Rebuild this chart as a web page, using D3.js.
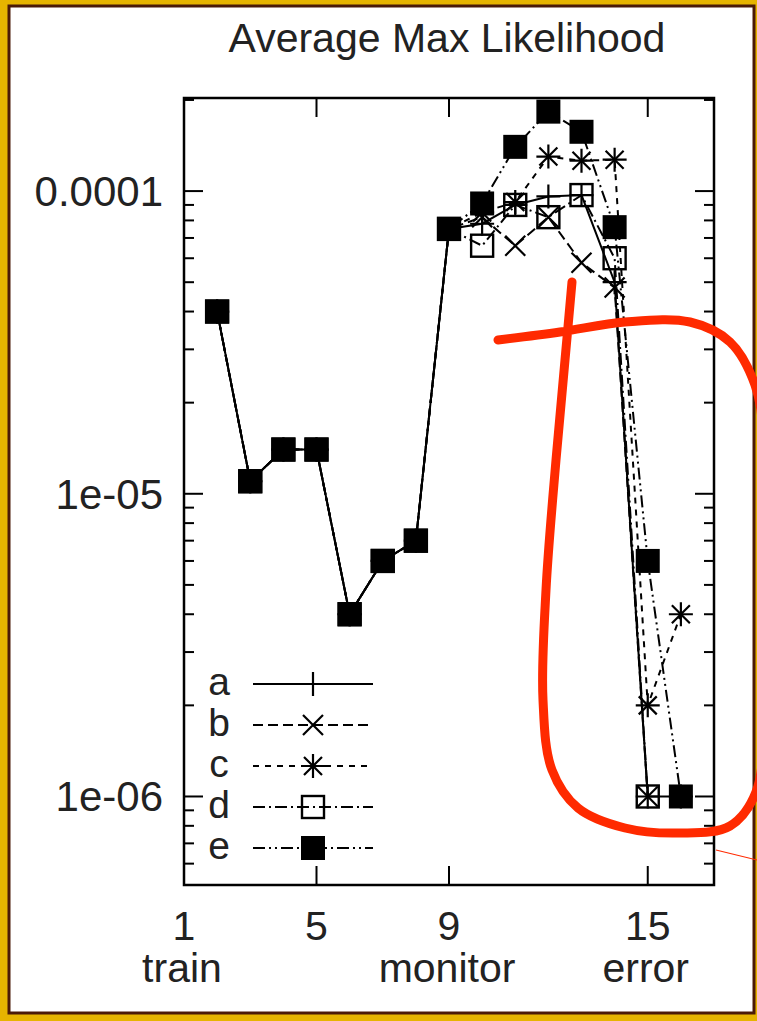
<!DOCTYPE html>
<html>
<head>
<meta charset="utf-8">
<script src="https://cdn.jsdelivr.net/npm/d3@7"></script>
<style>
  html, body { margin: 0; padding: 0; background: #e6b400; }
  svg { display: block; }
  text { font-family: "Liberation Sans", Arial, sans-serif; fill: #222; }
</style>
</head>
<body>
<svg id="chart"></svg>
<script>
// Data
const xValues = [2, 3, 4, 5, 6, 7, 8, 9, 10, 11, 12, 13, 14, 15, 16];
const shared = [4e-5, 1.1e-5, 1.4e-5, 1.4e-5, 4e-6, 6e-6, 7e-6, 7.5e-5];
const seriesA = shared.concat([7.8e-5, 9.0e-5, 9.6e-5, 9.7e-5, 5.0e-5, 1e-6, 1e-6]);
const seriesB = shared.concat([8.2e-5, 6.6e-5, 8.2e-5, 5.8e-5, 4.8e-5, 1e-6, null]);
const seriesC = shared.concat([8.5e-5, 9.2e-5, 1.3e-4, 1.26e-4, 1.27e-4, 2e-6, 4e-6]);
const seriesD = shared.concat([6.6e-5, 9.0e-5, 8.2e-5, 9.7e-5, 6.0e-5, 1e-6, null]);
const seriesE = shared.concat([9.1e-5, 1.4e-4, 1.83e-4, 1.57e-4, 7.6e-5, 6e-6, 1e-6]);
const seriesNames = ["a", "b", "c", "d", "e"];
const xTicks = [1, 5, 9, 15];
const xTickLabels = ["1", "5", "9", "15"];
const xTickSubLabels = ["train", "", "monitor", "error"];
const yTicks = [1e-4, 1e-5, 1e-6];
const yTickLabels = ["0.0001", "1e-05", "1e-06"];
const title = "Average Max Likelihood";

// hand drawn red loop on top of the chart (pixels)
const annotation = [[498, 340], [560, 332], [625, 322], [690, 322], [730, 342], [755, 385],
  [764, 440], [766, 560], [765, 700], [756, 792], [730, 826], [680, 833], [625, 828],
  [578, 808], [552, 770], [543, 700], [546, 590], [556, 460], [565, 360], [572, 282]];

const W = 757, H = 1021;
const margin = {top: 98, right: 43, bottom: 136, left: 184};

const svg = d3.select("#chart").attr("width", W).attr("height", H);

// page frame
svg.append("rect").attr("x", 9).attr("y", 6).attr("width", 745).attr("height", 1007)
  .attr("fill", "#fff").attr("stroke", "#4a1a08").attr("stroke-width", 3);

const x = d3.scaleLinear().domain([1, 17]).range([margin.left, W - margin.right]);
const y = d3.scaleLog().domain([5.1e-7, 2.03e-4]).range([H - margin.bottom, margin.top]);

const x0 = x.range()[0], x1 = x.range()[1];
const y0 = y.range()[0], y1 = y.range()[1];

// title
svg.append("text").attr("x", (x0 + x1) / 2 - 2).attr("y", 52)
  .attr("text-anchor", "middle").attr("font-size", 41).text(title);

const axes = svg.append("g").attr("stroke", "#000").attr("stroke-width", 2);

// minor y ticks
const minor = [];
for (let e = -7; e <= -4; e++) {
  for (let m = 2; m <= 9; m++) {
    const v = m * Math.pow(10, e);
    if (v >= y.domain()[0] && v <= y.domain()[1]) minor.push(v);
  }
}
minor.forEach(v => {
  axes.append("line").attr("x1", x0).attr("x2", x0 + 10).attr("y1", y(v)).attr("y2", y(v));
  axes.append("line").attr("x1", x1).attr("x2", x1 - 10).attr("y1", y(v)).attr("y2", y(v));
});
yTicks.forEach((v, i) => {
  axes.append("line").attr("x1", x0).attr("x2", x0 + 19).attr("y1", y(v)).attr("y2", y(v));
  axes.append("line").attr("x1", x1).attr("x2", x1 - 19).attr("y1", y(v)).attr("y2", y(v));
  svg.append("text").attr("x", x0 - 21).attr("y", y(v) + 15)
    .attr("text-anchor", "end").attr("font-size", 42).text(yTickLabels[i]);
});
xTicks.forEach((v, i) => {
  axes.append("line").attr("x1", x(v)).attr("x2", x(v)).attr("y1", y0).attr("y2", y0 - 19);
  axes.append("line").attr("x1", x(v)).attr("x2", x(v)).attr("y1", y1).attr("y2", y1 + 19);
  svg.append("text").attr("x", x(v)).attr("y", 940)
    .attr("text-anchor", "middle").attr("font-size", 41).text(xTickLabels[i]);
  if (xTickSubLabels[i]) {
    svg.append("text").attr("x", x(v) - 2).attr("y", 982)
      .attr("text-anchor", "middle").attr("font-size", 41).text(xTickSubLabels[i]);
  }
});

// series drawing
const dashes = ["none", "10,5", "6,6", "12,4,2,4", "12,4,2,4,2,4"];
const allSeries = [seriesA, seriesB, seriesC, seriesD, seriesE];

function marker(g, type, cx, cy) {
  const s = 12;
  if (type === 0 || type === 2) {
    g.append("path").attr("d", `M${cx - s},${cy}H${cx + s}M${cx},${cy - s}V${cy + s}`)
      .attr("stroke", "#000").attr("stroke-width", 2.2);
  }
  if (type === 1 || type === 2) {
    const t = type === 1 ? 10 : 9;
    g.append("path").attr("d", `M${cx - t},${cy - t}L${cx + t},${cy + t}M${cx - t},${cy + t}L${cx + t},${cy - t}`)
      .attr("stroke", "#000").attr("stroke-width", 2.2);
  }
  if (type === 3) {
    g.append("rect").attr("x", cx - 11).attr("y", cy - 11).attr("width", 22).attr("height", 22)
      .attr("fill", "none").attr("stroke", "#000").attr("stroke-width", 2.4);
  }
  if (type === 4) {
    g.append("rect").attr("x", cx - 12).attr("y", cy - 12).attr("width", 24).attr("height", 24)
      .attr("fill", "#000");
  }
}

const line = d3.line().defined(d => d[1] != null).x(d => x(d[0])).y(d => y(d[1]));
const plot = svg.append("g");

allSeries.forEach((vals, i) => {
  const pts = xValues.map((xv, j) => [xv, vals[j]]);
  plot.append("path").datum(pts).attr("d", line)
    .attr("fill", "none").attr("stroke", "#000").attr("stroke-width", 2)
    .attr("stroke-dasharray", dashes[i]);
});
allSeries.forEach((vals, i) => {
  const g = plot.append("g");
  xValues.forEach((xv, j) => {
    if (vals[j] != null) marker(g, i, x(xv), y(vals[j]));
  });
});

// legend
const legend = svg.append("g");
seriesNames.forEach((name, i) => {
  const ly = 684 + i * 41;
  legend.append("text").attr("x", 219).attr("y", ly + 11)
    .attr("text-anchor", "middle").attr("font-size", 39).text(name);
  legend.append("line").attr("x1", 253).attr("x2", 373).attr("y1", ly).attr("y2", ly)
    .attr("stroke", "#000").attr("stroke-width", 2).attr("stroke-dasharray", dashes[i]);
  marker(legend, i, 313, ly);
});

// frame
axes.append("rect").attr("x", x0).attr("y", y1).attr("width", x1 - x0).attr("height", y0 - y1)
  .attr("fill", "none").attr("stroke-width", 2.5);

// red annotation
svg.append("path").datum(annotation)
  .attr("d", d3.line().curve(d3.curveCatmullRom))
  .attr("fill", "none").attr("stroke", "#ff2a00").attr("stroke-width", 9)
  .attr("stroke-linecap", "round");
svg.append("path").attr("d", "M716,850L757,860").attr("stroke", "#ff2a00").attr("stroke-width", 1.2);
</script>
</body>
</html>
